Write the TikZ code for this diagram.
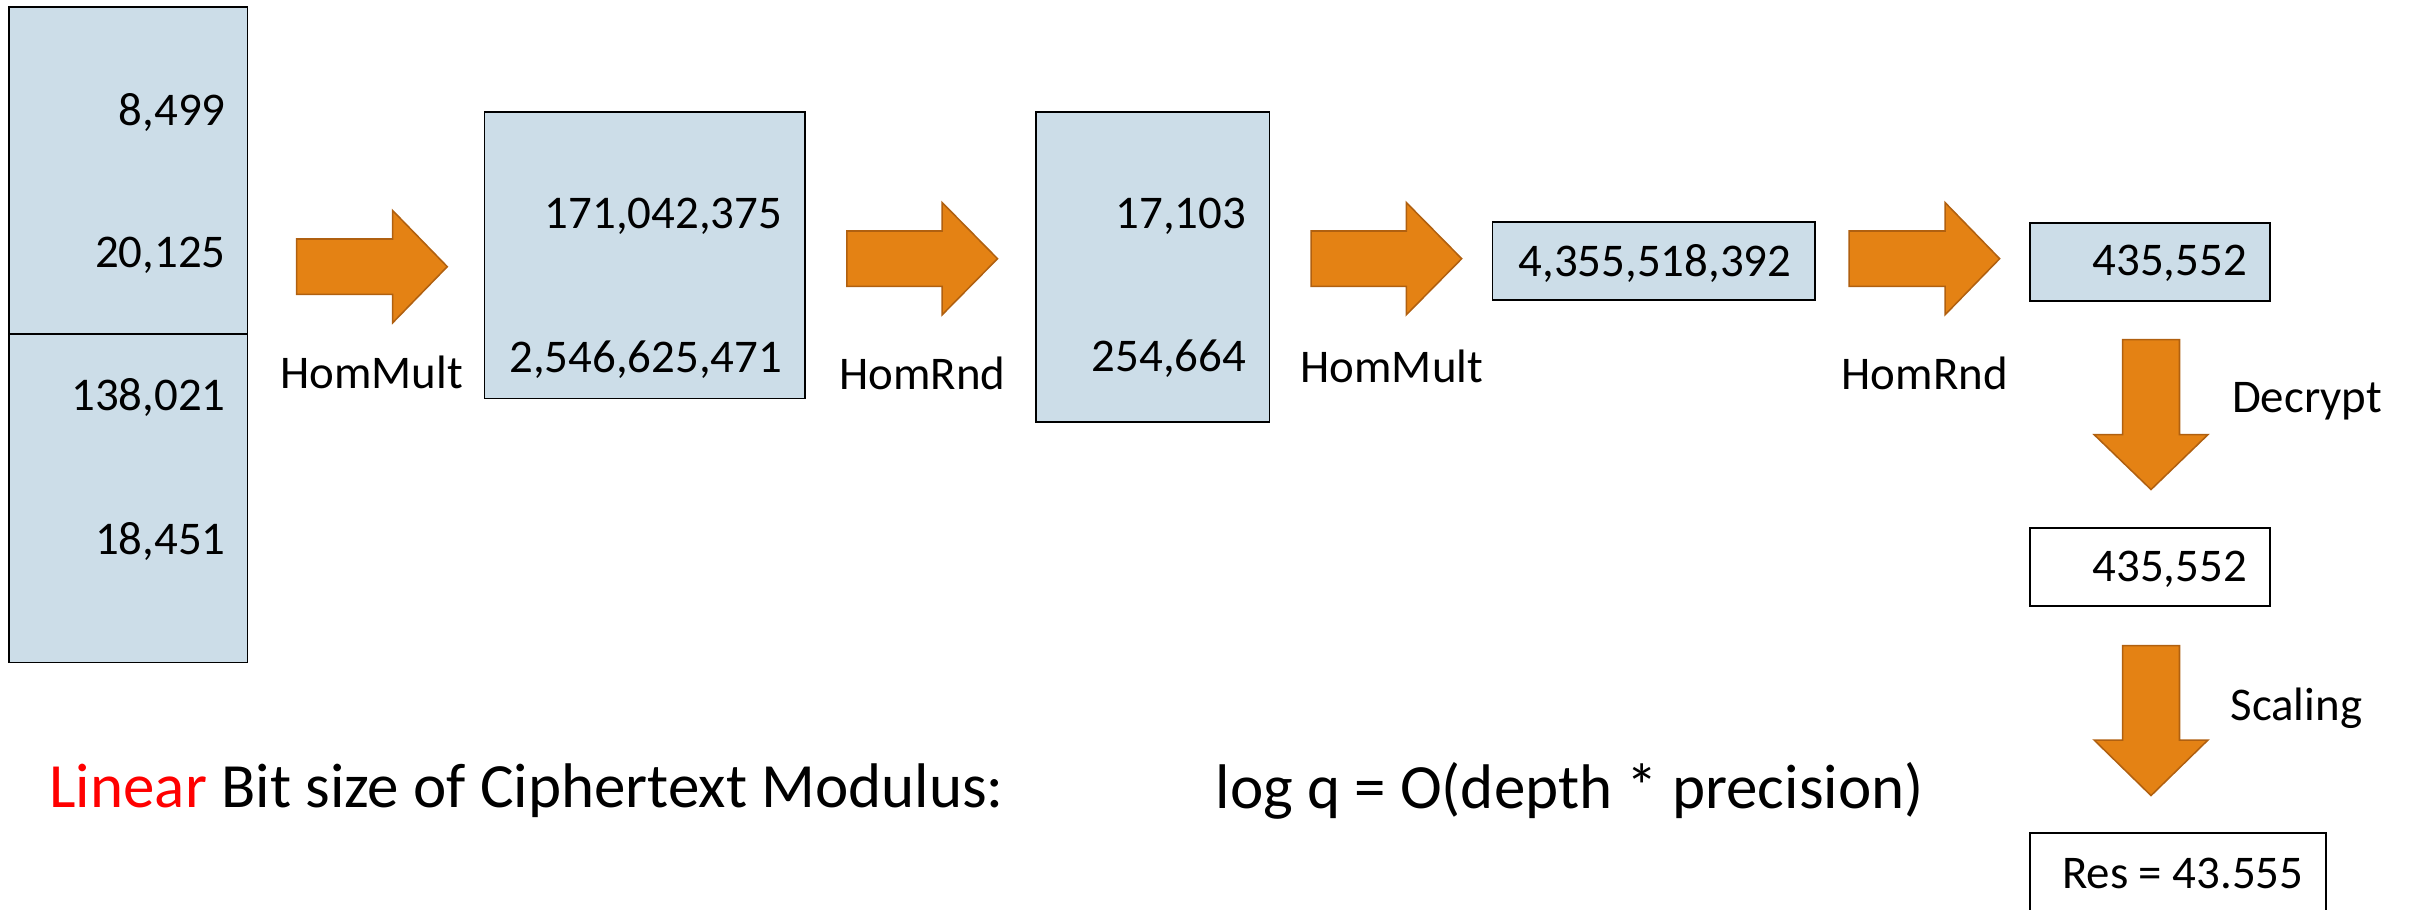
\documentclass[tikz,border=0pt]{standalone}
\usepackage{fontspec}
\setmainfont{Carlito}
\definecolor{boxblue}{RGB}{204,221,232}
\definecolor{arrfill}{RGB}{228,130,20}
\definecolor{arrline}{RGB}{176,96,16}
\newcommand\blockR[5]{% x1, xhead, xtip, ycenter, name
  \path[blockarrow] (#1,#4-18) -- (#2,#4-18) -- (#2,#4-36.5) -- (#3,#4) -- (#2,#4+36.5) -- (#2,#4+18) -- (#1,#4+18) -- cycle;
  \coordinate (#5) at (#3,#4);}
\newcommand\blockD[5]{% y1, yhead, ytip, xcenter, name
  \path[blockarrow] (#4-18.5,#1) -- (#4-18.5,#2) -- (#4-37,#2) -- (#4,#3) -- (#4+37,#2) -- (#4+18.5,#2) -- (#4+18.5,#1) -- cycle;
  \coordinate (#5) at (#4,#3);}
\begin{document}
\begin{tikzpicture}[x=1pt,y=-1pt,
  cell/.style={draw=black, line width=1.2pt, fill=boxblue, inner sep=0pt},
  wcell/.style={draw=black, line width=1.2pt, fill=white, inner sep=0pt},
  blockarrow/.style={fill=arrfill, draw=arrline, line width=1pt, line join=miter},
  num/.style={inner sep=0pt, font=\fontsize{30.5}{36}\selectfont},
  lab/.style={inner sep=0pt, anchor=base west, font=\fontsize{30.5}{36}\selectfont},
  big/.style={inner sep=0pt, anchor=base west, font=\fontsize{41}{48}\selectfont}]
\useasboundingbox (0,0) rectangle (1568,592);
\clip (0,0) rectangle (1568,592);

% boxes
\node[cell, minimum width=155pt, minimum height=212.8pt] (b1top) at (83.5,110.9) {};
\node[cell, minimum width=155pt, minimum height=213.7pt] (b1bot) at (83.5,324.2) {};
\node[cell, minimum width=208.6pt, minimum height=186.5pt] (b2) at (419.5,166) {};
\node[cell, minimum width=152pt, minimum height=201.7pt] (b3) at (750,173.5) {};
\node[cell, minimum width=210pt, minimum height=51pt] (b4) at (1076,169.7) {};
\node[cell, minimum width=156.5pt, minimum height=50.6pt] (b5) at (1398.75,170.6) {};
\node[wcell, minimum width=156.5pt, minimum height=50.7pt] (b6) at (1398.75,369) {};
\node[wcell, minimum width=192.8pt, minimum height=60pt] (b7) at (1417.2,572) {};

% numbers
\node[num, anchor=base east] (t1) at (147,81.5) {8,499};
\node[num, anchor=base east] (t2) at (147,174.3) {20,125};
\node[num, anchor=base east] (t3) at (147,267) {138,021};
\node[num, anchor=base east] (t4) at (147,360.7) {18,451};
\node[num, anchor=base east] (t5) at (509,148.6) {171,042,375};
\node[num, anchor=base east] (t6) at (509,242.5) {2,546,625,471};
\node[num, anchor=base east] (t7) at (811,148.6) {17,103};
\node[num, anchor=base east] (t8) at (811,241.8) {254,664};
\node[num, anchor=base] (t9) at (1076.7,180) {4,355,518,392};
\node[num, anchor=base east] (t10) at (1462,179.2) {435,552};
\node[num, anchor=base east] (t11) at (1462,378.2) {435,552};
\node[num, anchor=base west] (t12) at (1341.4,578) {Res = 43.555};

% block arrows
\blockR{193}{255.5}{291}{173.5}{a1}
\blockR{551}{613}{649}{168.3}{a2}
\blockR{853}{915}{951}{168.3}{a3}
\blockR{1203}{1265.5}{1301}{168.3}{a4}
\blockD{221}{282.8}{318.5}{1399.5}{a5}
\blockD{420}{481.5}{517.6}{1399.5}{a6}

% labels
\node[lab] (l1) at (182.2,253) {HomMult};
\node[lab] (l2) at (546,253.7) {HomRnd};
\node[lab] (l3) at (846,249) {HomMult};
\node[lab] (l4) at (1198,253.7) {HomRnd};
\node[lab] (l5) at (1452,268.6) {Decrypt};
\node[lab] (l6) at (1451,468.5) {Scaling};

% bottom line
\node[big] (s1) at (32,525.5) {\textcolor{red}{Linear} Bit size of Ciphertext Modulus:};
\node[big] (s2) at (790.7,525.8) {log q = O(depth * precision)};
\end{tikzpicture}
\end{document}
